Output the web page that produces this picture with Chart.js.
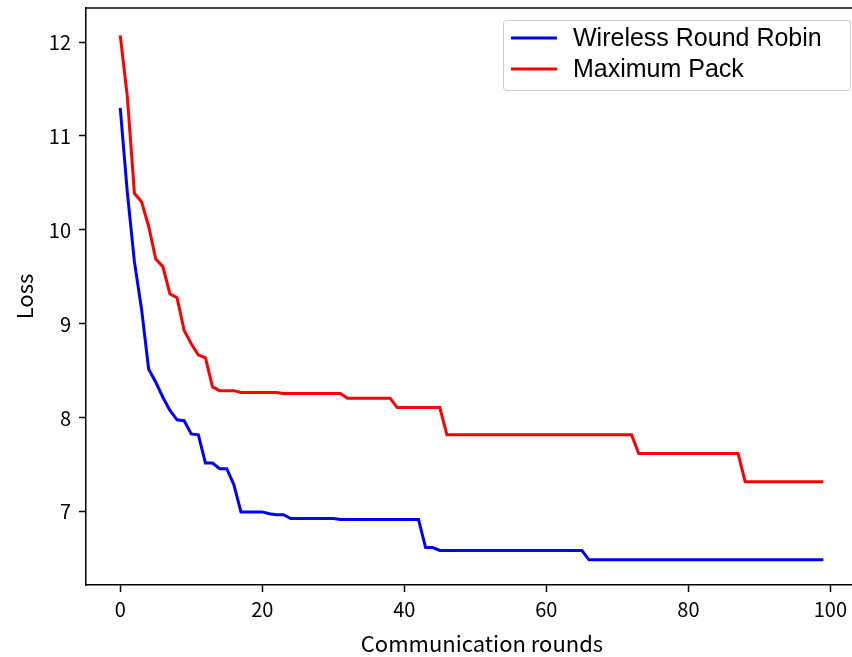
<!DOCTYPE html>
<html>
<head>
<meta charset="utf-8">
<script src="https://cdn.jsdelivr.net/npm/chart.js@4/dist/chart.umd.min.js"></script>
<style>
  body { margin: 0; background: #fff; overflow: hidden; }
  #wrap { position: absolute; left: 0; top: 0; width: 852px; height: 657px; overflow: hidden; }
  #loss_chart { display: block; }
</style>
</head>
<body>
<div id="wrap"><canvas id="loss_chart" width="880" height="657"></canvas></div>
<script>
// communication rounds 0..99
var rounds = [];
for (var i = 0; i < 100; i++) rounds.push(i);

var wrrLoss = [
  11.30, 10.40, 9.66, 9.16, 8.52, 8.38, 8.22, 8.08, 7.98, 7.97,
  7.83, 7.82, 7.52, 7.52, 7.46, 7.46, 7.29, 7.00, 7.00, 7.00,
  7.00, 6.98, 6.97, 6.97, 6.93, 6.93, 6.93, 6.93, 6.93, 6.93,
  6.93, 6.92, 6.92, 6.92, 6.92, 6.92, 6.92, 6.92, 6.92, 6.92,
  6.92, 6.92, 6.92, 6.62, 6.62, 6.59, 6.59, 6.59, 6.59, 6.59,
  6.59, 6.59, 6.59, 6.59, 6.59, 6.59, 6.59, 6.59, 6.59, 6.59,
  6.59, 6.59, 6.59, 6.59, 6.59, 6.59, 6.49, 6.49, 6.49, 6.49,
  6.49, 6.49, 6.49, 6.49, 6.49, 6.49, 6.49, 6.49, 6.49, 6.49,
  6.49, 6.49, 6.49, 6.49, 6.49, 6.49, 6.49, 6.49, 6.49, 6.49,
  6.49, 6.49, 6.49, 6.49, 6.49, 6.49, 6.49, 6.49, 6.49, 6.49
];

var maxPackLoss = [
  12.07, 11.42, 10.39, 10.30, 10.04, 9.69, 9.61, 9.32, 9.28, 8.93,
  8.79, 8.67, 8.64, 8.33, 8.29, 8.29, 8.29, 8.27, 8.27, 8.27,
  8.27, 8.27, 8.27, 8.26, 8.26, 8.26, 8.26, 8.26, 8.26, 8.26,
  8.26, 8.26, 8.21, 8.21, 8.21, 8.21, 8.21, 8.21, 8.21, 8.11,
  8.11, 8.11, 8.11, 8.11, 8.11, 8.11, 7.82, 7.82, 7.82, 7.82,
  7.82, 7.82, 7.82, 7.82, 7.82, 7.82, 7.82, 7.82, 7.82, 7.82,
  7.82, 7.82, 7.82, 7.82, 7.82, 7.82, 7.82, 7.82, 7.82, 7.82,
  7.82, 7.82, 7.82, 7.62, 7.62, 7.62, 7.62, 7.62, 7.62, 7.62,
  7.62, 7.62, 7.62, 7.62, 7.62, 7.62, 7.62, 7.62, 7.32, 7.32,
  7.32, 7.32, 7.32, 7.32, 7.32, 7.32, 7.32, 7.32, 7.32, 7.32
];

var seriesLabels = ['Wireless Round Robin', 'Maximum Pack'];
var xTicks = [0, 20, 40, 60, 80, 100];
var yTicks = [7, 8, 9, 10, 11, 12];

function toPoints(ys) {
  return ys.map(function (y, k) { return { x: rounds[k], y: y }; });
}

var tickFont = { family: '"Noto Sans CJK KR", "Noto Sans", sans-serif', size: 20 };
var titleFont = { family: '"Noto Sans CJK KR", "Noto Sans", sans-serif', size: 22 };

// legend drawn inside the plot, top right, matplotlib style
var innerLegend = {
  id: 'innerLegend',
  afterDraw: function (chart) {
    var ctx = chart.ctx;
    var x0 = 503, y0 = 20, w = 347, h = 70;
    ctx.save();
    ctx.fillStyle = 'rgba(255,255,255,0.8)';
    ctx.strokeStyle = '#cccccc';
    ctx.lineWidth = 1;
    ctx.beginPath();
    ctx.roundRect(x0 + 0.5, y0 + 0.5, w, h, 3);
    ctx.fill();
    ctx.stroke();
    ctx.font = '25px "Liberation Sans", Arial, sans-serif';
    ctx.textBaseline = 'middle';
    chart.data.datasets.forEach(function (ds, k) {
      var ly = 38 + k * 31;
      ctx.strokeStyle = ds.borderColor;
      ctx.lineWidth = 3;
      ctx.beginPath();
      ctx.moveTo(511, ly);
      ctx.lineTo(557, ly);
      ctx.stroke();
      ctx.fillStyle = '#000';
      ctx.fillText(ds.label, 573, ly + 1);
    });
    ctx.restore();
  }
};

// top spine only (left and bottom come from the axis borders)
var frame = {
  id: 'frame',
  afterDraw: function (chart) {
    var a = chart.chartArea, ctx = chart.ctx;
    ctx.save();
    ctx.strokeStyle = '#000';
    ctx.lineWidth = 1.5;
    ctx.beginPath();
    ctx.moveTo(a.left, a.top);
    ctx.lineTo(a.right, a.top);
    ctx.stroke();
    ctx.restore();
  }
};

var config = {
  type: 'line',
  data: {
    datasets: [{
      label: seriesLabels[0],
      data: toPoints(wrrLoss),
      borderColor: '#0000ff',
      borderWidth: 3,
      pointRadius: 0,
      fill: false,
      tension: 0
    }, {
      label: seriesLabels[1],
      data: toPoints(maxPackLoss),
      borderColor: '#ff0000',
      borderWidth: 3,
      pointRadius: 0,
      fill: false,
      tension: 0
    }]
  },
  options: {
    responsive: false,
    animation: false,
    layout: { padding: { top: 8, right: 2, left: 0, bottom: 0 } },
    plugins: { legend: { display: false }, tooltip: { enabled: false } },
    scales: {
      x: {
        type: 'linear',
        min: -4.82,
        max: 106.7,
        afterBuildTicks: function (s) { s.ticks = xTicks.map(function (v) { return { value: v }; }); },
        afterFit: function (s) { s.height = 72; s.paddingLeft = 0; s.paddingRight = 0; },
        grid: { drawOnChartArea: false, tickLength: 7, tickColor: '#000', tickWidth: 1.5 },
        border: { color: '#000', width: 1.5 },
        ticks: { color: '#000', font: tickFont, padding: 5, maxRotation: 0 },
        title: { display: true, text: 'Communication rounds', color: '#000', font: titleFont, padding: { top: 0, bottom: 0 } }
      },
      y: {
        min: 6.222,
        max: 12.362,
        afterBuildTicks: function (s) { s.ticks = yTicks.map(function (v) { return { value: v }; }); },
        afterFit: function (s) { s.width = 86; s.paddingTop = 0; s.paddingBottom = 0; },
        grid: { drawOnChartArea: false, tickLength: 7, tickColor: '#000', tickWidth: 1.5 },
        border: { color: '#000', width: 1.5 },
        ticks: { color: '#000', font: tickFont, padding: 8 },
        title: { display: true, text: 'Loss', color: '#000', font: titleFont, padding: { top: 11, bottom: 0 } }
      }
    }
  },
  plugins: [innerLegend, frame]
};

window.chart = new Chart(document.getElementById('loss_chart').getContext('2d'), config);
</script>
</body>
</html>
